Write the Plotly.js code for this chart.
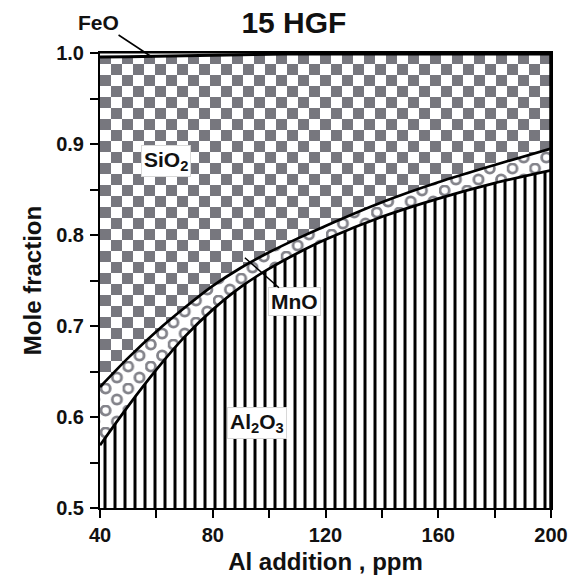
<!DOCTYPE html>
<html>
<head>
<meta charset="utf-8">
<script src="https://cdn.plot.ly/plotly-3.0.1.min.js"></script>
<style>
html,body{margin:0;padding:0;background:#ffffff;}
#chart{width:581px;height:581px;}
</style>
</head>
<body>
<div id="chart"></div>
<script>
// ---- data (mole fractions) ----
const alAddition = [40, 50, 60, 70, 80, 90, 100, 110, 120, 140, 160, 180, 200];
const al2o3 = [0.569, 0.612, 0.652, 0.688, 0.718, 0.743, 0.763, 0.780, 0.795, 0.820, 0.840, 0.857, 0.871];
const mno   = [0.064, 0.053, 0.042, 0.032, 0.026, 0.021, 0.018, 0.016, 0.015, 0.016, 0.018, 0.020, 0.024];
const sio2  = [0.3625, 0.331, 0.3025, 0.277, 0.2535, 0.234, 0.2175, 0.203, 0.189, 0.163, 0.141, 0.122, 0.104];
const feo   = [0.0045, 0.004, 0.0035, 0.003, 0.0025, 0.002, 0.0015, 0.001, 0.001, 0.001, 0.001, 0.001, 0.001];

const xTickVals = [40, 80, 120, 160, 200];
const xTickText = ['40', '80', '120', '160', '200'];
const xMinorVals = [60, 100, 140, 180];
const yTickVals = [0.5, 0.6, 0.7, 0.8, 0.9, 1.0];
const yTickText = ['0.5', '0.6', '0.7', '0.8', '0.9', '1.0'];
const yMinorVals = [0.55, 0.65, 0.75, 0.85, 0.95];

const titleText = '15 HGF';
const xTitle = 'Al addition , ppm';
const yTitle = 'Mole fraction';

// ---- styles ----
const FONT = 'Liberation Sans, Arial, Helvetica, sans-serif';
const checkGray = '#77777e';
const ringGray = '#84848b';

const traces = [
  {name: 'Al2O3', x: alAddition, y: al2o3, stackgroup: 'one', mode: 'lines',
   line: {color: '#000', width: 2.7, shape: 'spline', smoothing: 0.8},
   fillcolor: '#ffffff',
   fillpattern: {shape: '|', size: 10, solidity: 0.3, fgcolor: '#000000', bgcolor: '#ffffff', fillmode: 'replace'},
   hoverinfo: 'skip'},
  {name: 'MnO', x: alAddition, y: mno, stackgroup: 'one', mode: 'lines',
   line: {color: '#000', width: 2.7, shape: 'spline', smoothing: 0.8},
   fillcolor: '#ffffff',
   fillpattern: {shape: '.', size: 21, solidity: 0.3, fgcolor: ringGray, bgcolor: '#ffffff', fillmode: 'replace'},
   hoverinfo: 'skip'},
  {name: 'SiO2', x: alAddition, y: sio2, stackgroup: 'one', mode: 'lines',
   line: {color: '#000', width: 3, shape: 'spline', smoothing: 0.8},
   fillcolor: '#ffffff',
   fillpattern: {shape: '-', size: 22, solidity: 0.5, fgcolor: checkGray, bgcolor: '#ffffff', fillmode: 'replace'},
   hoverinfo: 'skip'},
  {name: 'FeO', x: alAddition, y: feo, stackgroup: 'one', mode: 'lines',
   line: {color: '#000', width: 1.2, shape: 'spline', smoothing: 0.8},
   fillcolor: '#ffffff',
   hoverinfo: 'skip'}
];

const labelFont = {family: FONT, size: 21, color: '#111', weight: 'bold'};
const tickFont = {family: FONT, size: 20, color: '#111', weight: 'bold'};
const minorTicks = {ticks: 'outside', ticklen: 8, tickwidth: 2, tickcolor: '#000', showgrid: false};

const layout = {
  width: 581, height: 581,
  margin: {l: 100, r: 30, t: 53, b: 73},
  paper_bgcolor: '#ffffff', plot_bgcolor: '#ffffff',
  showlegend: false,
  font: {family: FONT, color: '#111'},
  title: {text: titleText, font: {family: FONT, size: 30, color: '#111', weight: 'bold'},
          xref: 'paper', x: 0.43, xanchor: 'center', yref: 'container', y: 0.962, yanchor: 'middle'},
  xaxis: {
    range: [40, 200], tickmode: 'array', tickvals: xTickVals, ticktext: xTickText,
    minor: Object.assign({tickmode: 'array', tickvals: xMinorVals}, minorTicks),
    ticks: 'outside', ticklen: 8, tickwidth: 2, tickcolor: '#000',
    showline: true, linewidth: 2, linecolor: '#000', mirror: true,
    showgrid: false, zeroline: false,
    tickfont: tickFont,
    title: {text: xTitle, font: {family: FONT, size: 24, color: '#111', weight: 'bold'}, standoff: 8}
  },
  yaxis: {
    range: [0.5, 1.0], tickmode: 'array', tickvals: yTickVals, ticktext: yTickText,
    minor: Object.assign({tickmode: 'array', tickvals: yMinorVals}, minorTicks),
    ticks: 'outside', ticklen: 8, tickwidth: 2, tickcolor: '#000',
    showline: true, linewidth: 2, linecolor: '#000', mirror: true,
    showgrid: false, zeroline: false, ticklabelstandoff: 2,
    tickfont: tickFont,
    title: {text: yTitle, font: {family: FONT, size: 24, color: '#111', weight: 'bold'}, standoff: 8}
  },
  shapes: [
    {type: 'line', xref: 'paper', yref: 'paper', x0: 1, x1: 1, y0: 0, y1: 1,
     line: {color: '#000', width: 3.5}}
  ],
  annotations: [
    {text: 'SiO<sub>2</sub>', x: 63.4, y: 0.881, xref: 'x', yref: 'y', showarrow: false,
     font: labelFont, bgcolor: '#ffffff', bordercolor: '#d8d8d8', borderwidth: 1, borderpad: 2},
    {text: 'MnO', x: 91.4, y: 0.775, xref: 'x', yref: 'y', showarrow: true,
     arrowhead: 0, arrowwidth: 1.5, arrowcolor: '#000', ax: 50, ay: 44,
     font: labelFont, bgcolor: '#ffffff', bordercolor: '#d8d8d8', borderwidth: 1, borderpad: 2},
    {text: 'Al<sub>2</sub>O<sub>3</sub>', x: 95.7, y: 0.593, xref: 'x', yref: 'y', showarrow: false,
     font: labelFont, bgcolor: '#ffffff', bordercolor: '#d8d8d8', borderwidth: 1, borderpad: 2},
    {text: 'FeO', x: 58.4, y: 0.9956, xref: 'x', yref: 'y', showarrow: true,
     arrowhead: 0, arrowwidth: 1.5, arrowcolor: '#000', ax: -53, ay: -35,
     font: labelFont}
  ]
};

const NS = 'http://www.w3.org/2000/svg';
function mk(tag, attrs) {
  const e = document.createElementNS(NS, tag);
  for (const k in attrs) e.setAttribute(k, attrs[k]);
  return e;
}
function clear(p) { while (p.firstChild) p.removeChild(p.firstChild); }

// Replace the library's stock textures with the checkerboard and ring textures of the figure
function restyleTextures(gd) {
  gd.querySelectorAll('pattern').forEach(function (p) {
    const w = Math.round(parseFloat(p.getAttribute('width')));
    if (w === 22) {
      clear(p);
      p.setAttribute('width', 22); p.setAttribute('height', 22);
      p.appendChild(mk('rect', {x: 0, y: 0, width: 22, height: 22, fill: '#ffffff'}));
      p.appendChild(mk('rect', {x: 0, y: 0, width: 11, height: 11, fill: checkGray}));
      p.appendChild(mk('rect', {x: 11, y: 11, width: 11, height: 11, fill: checkGray}));
    } else if (w === 21) {
      clear(p);
      p.setAttribute('width', 22.6); p.setAttribute('height', 22);
      p.appendChild(mk('rect', {x: 0, y: 0, width: 22.6, height: 22, fill: '#ffffff'}));
      const ring = {r: 4.6, fill: 'none', stroke: ringGray, 'stroke-width': 2.8};
      [[5.6, 5.5], [16.9, 16.5], [16.9, -5.5], [-5.7, 16.5]].forEach(function (c) {
        p.appendChild(mk('circle', Object.assign({cx: c[0], cy: c[1]}, ring)));
      });
    }
  });
}

const gd = document.getElementById('chart');
Plotly.newPlot(gd, traces, layout, {displayModeBar: false, staticPlot: true}).then(function () {
  restyleTextures(gd);
});
</script>
</body>
</html>
